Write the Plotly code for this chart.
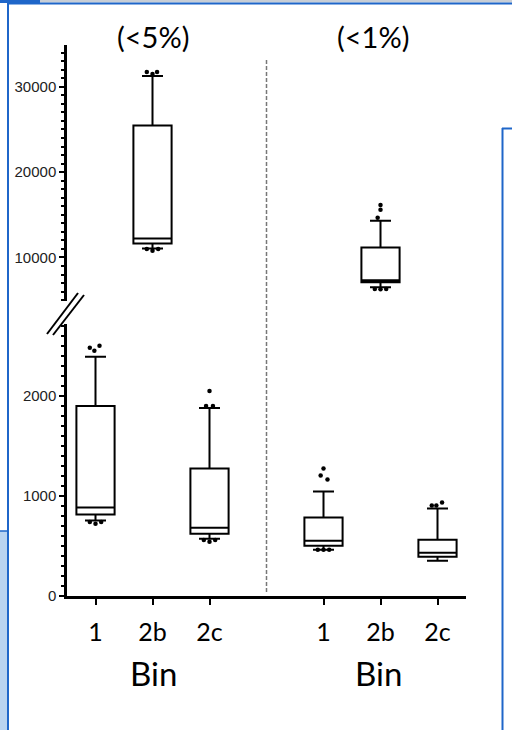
import plotly.graph_objects as go

# ---------------- data ----------------
bins = ["1", "2b", "2c"]
panels = ["(<5%)", "(<1%)"]

# box statistics per panel, order: 1, 2b, 2c
q1_5 = [814, 11630, 623]
med_5 = [884, 12210, 683]
q3_5 = [1900, 25470, 1276]
lo_5 = [754, 11050, 573]
hi_5 = [2392, 31280, 1879]

q1_1 = [503, 7090, 392]
med_1 = [553, 7330, 432]
q3_1 = [784, 11160, 563]
lo_1 = [462, 6510, 352]
hi_1 = [1045, 14300, 874]

# outliers: (bin index, value)
out_5_bin = [0, 0, 0, 0, 0, 0, 1, 1, 1, 1, 1, 1, 2, 2, 2, 2, 2, 2]
out_5_val = [2482, 2452, 2503, 740, 722, 740, 31740, 31500, 31740, 10980, 10800, 10980,
             1900, 2050, 1900, 560, 543, 560]
out_1_bin = [0, 0, 0, 0, 0, 0, 1, 1, 1, 1, 1, 1, 2, 2, 2]
out_1_val = [1206, 1276, 1166, 462, 462, 462, 14650, 15580, 16160, 6300, 6280, 6300,
             905, 905, 935]
# small horizontal dodge so overlapping dots sit side by side
out_5_dodge = [-0.1, -0.02, 0.07, -0.1, 0.0, 0.1, -0.1, 0.0, 0.08, -0.1, 0.0, 0.1,
               -0.06, 0.0, 0.06, -0.1, 0.0, 0.1]
out_1_dodge = [-0.05, 0.0, 0.07, -0.1, 0.0, 0.1, -0.05, 0.0, 0.0, -0.1, 0.0, 0.1,
               -0.1, -0.02, 0.08]

BREAK = 5000  # values above this go on the upper (broken) axis

# ---------------- layout geometry ----------------
W, H = 512, 730
L, R, T, B = 67, 46, 45, 134
PW, PH = W - L - R, H - T - B


def px_x(x):
    return (x - L) / PW


def px_y(y):
    return (H - B - y) / PH


lower_top = px_y(324)
upper_bot = px_y(301)

pos_5 = [1, 2, 3]
pos_1 = [5, 6, 7]

fig = go.Figure()

box_style = dict(line=dict(color="black", width=2), fillcolor="white",
                 whiskerwidth=0.55, width=0.67, boxpoints=False,
                 showlegend=False, hoverinfo="skip")


def add_boxes(pos, q1, med, q3, lo, hi):
    for p, a, m, c, l, h in zip(pos, q1, med, q3, lo, hi):
        ya = "y2" if m > BREAK else "y"
        fig.add_trace(go.Box(x=[p], q1=[a], median=[m], q3=[c], lowerfence=[l],
                             upperfence=[h], yaxis=ya, **box_style))


add_boxes(pos_5, q1_5, med_5, q3_5, lo_5, hi_5)
add_boxes(pos_1, q1_1, med_1, q3_1, lo_1, hi_1)


def add_out(pos, bidx, vals, dodge):
    xs_lo, ys_lo, xs_hi, ys_hi = [], [], [], []
    for b, v, d in zip(bidx, vals, dodge):
        if v > BREAK:
            xs_hi.append(pos[b] + d); ys_hi.append(v)
        else:
            xs_lo.append(pos[b] + d); ys_lo.append(v)
    mk = dict(color="black", size=4.5)
    fig.add_trace(go.Scatter(x=xs_lo, y=ys_lo, mode="markers", marker=mk, yaxis="y",
                             showlegend=False, hoverinfo="skip"))
    fig.add_trace(go.Scatter(x=xs_hi, y=ys_hi, mode="markers", marker=mk, yaxis="y2",
                             showlegend=False, hoverinfo="skip"))


add_out(pos_5, out_5_bin, out_5_val, out_5_dodge)
add_out(pos_1, out_1_bin, out_1_val, out_1_dodge)

tickfont_y = dict(family="Liberation Sans, Arial", size=15, color="#222")

fig.update_layout(
    width=W, height=H, margin=dict(l=L, r=R, t=T, b=B),
    paper_bgcolor="white", plot_bgcolor="white",
    xaxis=dict(range=[0.5, 7.5], tickvals=pos_5 + pos_1, ticktext=bins + bins,
               showline=True, linewidth=2.5, linecolor="black", ticks="outside",
               ticklen=6, tickwidth=2, tickcolor="black", showgrid=False,
               zeroline=False, anchor="y",
               tickfont=dict(family="Lato", size=25, color="black"),
               ticklabelstandoff=6),
    yaxis=dict(domain=[0, lower_top], range=[0, 2720], dtick=1000, tickformat="d",
               showline=True, linewidth=2.5, linecolor="black", ticks="outside",
               ticklen=5, tickwidth=2, tickcolor="black", showgrid=False,
               zeroline=False, anchor="x", tickfont=tickfont_y, ticklabelstandoff=0,
               minor=dict(dtick=100, ticks="outside", ticklen=3, tickwidth=1.5,
                          tickcolor="black", showgrid=False)),
    yaxis2=dict(domain=[upper_bot, 1], range=[4900, 34900], dtick=10000, tickformat="d",
                showline=True, linewidth=2.5, linecolor="black", ticks="outside",
                ticklen=5, tickwidth=2, tickcolor="black", showgrid=False,
                zeroline=False, anchor="x", tickfont=tickfont_y, ticklabelstandoff=0,
                minor=dict(dtick=1000, ticks="outside", ticklen=3, tickwidth=1.5,
                           tickcolor="black", showgrid=False)),
)

big = dict(family="Lato", color="black")
annotations = [
    dict(text=panels[0], x=px_x(153), y=px_y(37), font=dict(size=29, **big)),
    dict(text=panels[1], x=px_x(373), y=px_y(37), font=dict(size=29, **big)),
    dict(text="Bin", x=px_x(153), y=px_y(673), font=dict(size=33, **big)),
    dict(text="Bin", x=px_x(378), y=px_y(673), font=dict(size=33, **big)),
]
for a in annotations:
    a.update(xref="paper", yref="paper", showarrow=False, xanchor="center", yanchor="middle")
fig.update_layout(annotations=annotations)

blue = "#1f66c9"
shapes = [
    # separator
    dict(type="line", xref="x", yref="paper", x0=4, x1=4, y0=px_y(592), y1=px_y(60),
         line=dict(color="#777", width=1.5, dash="4px,2px")),
    # axis break marks
    dict(type="line", xref="paper", yref="paper", x0=px_x(47), y0=px_y(334), x1=px_x(78),
         y1=px_y(293), line=dict(color="black", width=2)),
    dict(type="line", xref="paper", yref="paper", x0=px_x(53), y0=px_y(335), x1=px_x(84),
         y1=px_y(295), line=dict(color="black", width=2)),
    # slide frame decorations
    dict(type="rect", xref="paper", yref="paper", x0=px_x(40), x1=px_x(512), y0=px_y(2.5),
         y1=px_y(0), line=dict(width=0), fillcolor="#c8ced6", layer="above"),
    dict(type="rect", xref="paper", yref="paper", x0=px_x(0), x1=px_x(40), y0=px_y(3),
         y1=px_y(0), line=dict(width=0), fillcolor=blue),
    dict(type="line", xref="paper", yref="paper", x0=px_x(7), x1=px_x(512), y0=px_y(3.5),
         y1=px_y(3.5), line=dict(color=blue, width=2)),
    dict(type="line", xref="paper", yref="paper", x0=px_x(8), x1=px_x(8), y0=px_y(3),
         y1=px_y(730), line=dict(color=blue, width=2)),
    dict(type="rect", xref="paper", yref="paper", x0=px_x(0), x1=px_x(7), y0=px_y(730),
         y1=px_y(531), line=dict(width=0), fillcolor="#b9d3f0"),
    dict(type="line", xref="paper", yref="paper", x0=px_x(0), x1=px_x(8), y0=px_y(531),
         y1=px_y(531), line=dict(color=blue, width=1.5)),
    dict(type="line", xref="paper", yref="paper", x0=px_x(502.5), x1=px_x(502.5),
         y0=px_y(128), y1=px_y(730), line=dict(color=blue, width=2)),
    dict(type="line", xref="paper", yref="paper", x0=px_x(502), x1=px_x(512),
         y0=px_y(128.5), y1=px_y(128.5), line=dict(color=blue, width=2)),
]
fig.update_layout(shapes=shapes)

fig.write_html("out.html")
